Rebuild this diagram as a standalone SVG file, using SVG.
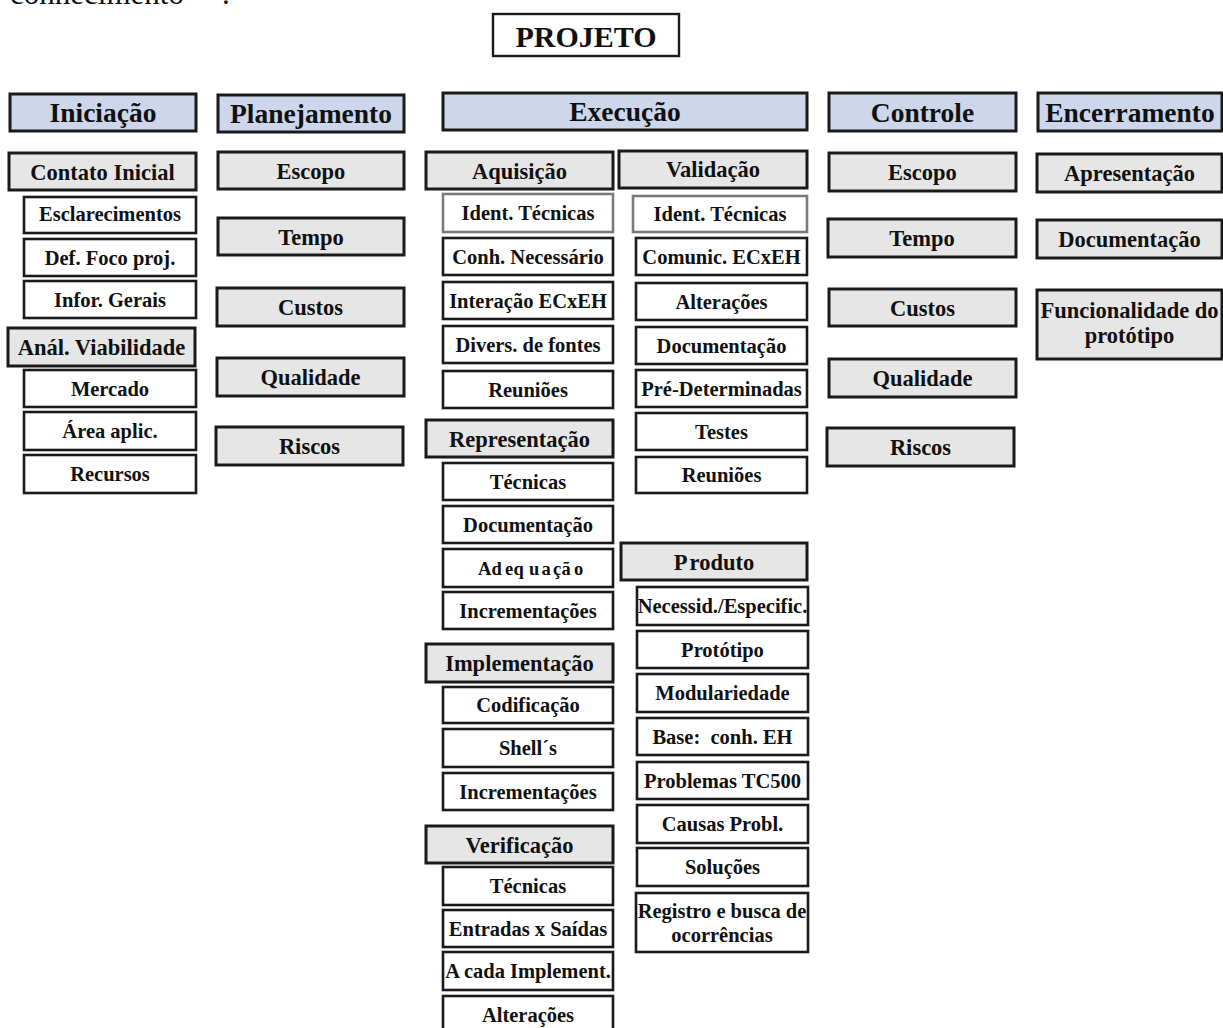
<svg xmlns="http://www.w3.org/2000/svg" width="1223" height="1028" viewBox="0 0 1223 1028">
  <style>
    text { font-family: "Liberation Serif", "Times New Roman", serif; font-weight: bold; fill: #111; text-anchor: middle; }
    .plain { font-weight: normal; text-anchor: start; font-size: 31px; }
    .hdr rect { fill: #cdd6ea; stroke: #1a1a1a; stroke-width: 3; }
    .hdr text { font-size: 27.5px; }
    .sub rect { fill: #e6e6e6; stroke: #1a1a1a; stroke-width: 3; }
    .sub text { font-size: 22.5px; }
    .leaf rect { fill: #ffffff; stroke: #1a1a1a; stroke-width: 2.6; }
    .leaf text { font-size: 20.5px; }
    .soft rect { fill: #ffffff; stroke: #7a7a7a; stroke-width: 2.6; }
    .soft text { font-size: 20.5px; }
    .top rect { fill: #ffffff; stroke: #1a1a1a; stroke-width: 2.4; }
    .top text { font-size: 30px; }
  </style>

  <rect width="1223" height="1028" fill="#ffffff"/>

  <!-- tail of the preceding paragraph, cut by the page edge -->
  <text class="plain" x="10" y="4">conhecimento<tspan x="222">.</tspan></text>

  <g id="projeto" class="top"><rect x="493" y="14" width="186" height="42"/><text x="586" y="47">PROJETO</text></g>

  <!-- phase headers -->
  <g id="iniciacao" class="hdr"><rect x="10" y="94" width="186" height="37"/><text x="103" y="122">Iniciação</text></g>
  <g id="planejamento" class="hdr"><rect x="218" y="95" width="186" height="37"/><text x="311" y="123">Planejamento</text></g>
  <g id="execucao" class="hdr"><rect x="443" y="93" width="364" height="37"/><text x="625" y="121">Execução</text></g>
  <g id="controle" class="hdr"><rect x="829" y="93" width="187" height="38"/><text x="922.5" y="121.5">Controle</text></g>
  <g id="encerramento" class="hdr"><rect x="1038" y="93" width="184" height="38"/><text x="1130" y="121.5">Encerramento</text></g>

  <!-- Iniciação -->
  <g id="ini-contato" class="sub"><rect x="9" y="153" width="187" height="37"/><text x="102.5" y="179.5">Contato Inicial</text></g>
  <g id="ini-esclarecimentos" class="leaf"><rect x="24" y="197" width="172" height="36"/><text x="110" y="221">Esclarecimentos</text></g>
  <g id="ini-foco" class="leaf"><rect x="24" y="239" width="172" height="37"/><text x="110" y="264.5">Def. Foco proj.</text></g>
  <g id="ini-infor" class="leaf"><rect x="24" y="281" width="172" height="37"/><text x="110" y="306.5">Infor. Gerais</text></g>
  <g id="ini-viabilidade" class="sub"><rect x="8" y="328" width="187" height="38"/><text x="101.5" y="355">Anál. Viabilidade</text></g>
  <g id="ini-mercado" class="leaf"><rect x="24" y="370" width="172" height="37"/><text x="110" y="395.5">Mercado</text></g>
  <g id="ini-area" class="leaf"><rect x="24" y="412" width="172" height="38"/><text x="110" y="438">Área aplic.</text></g>
  <g id="ini-recursos" class="leaf"><rect x="24" y="455" width="172" height="38"/><text x="110" y="481">Recursos</text></g>

  <!-- Planejamento -->
  <g id="pla-escopo" class="sub"><rect x="218" y="152" width="186" height="37"/><text x="311" y="178.5">Escopo</text></g>
  <g id="pla-tempo" class="sub"><rect x="218" y="218" width="186" height="37"/><text x="311" y="244.5">Tempo</text></g>
  <g id="pla-custos" class="sub"><rect x="217" y="288" width="187" height="38"/><text x="310.5" y="315">Custos</text></g>
  <g id="pla-qualidade" class="sub"><rect x="217" y="358" width="187" height="38"/><text x="310.5" y="385">Qualidade</text></g>
  <g id="pla-riscos" class="sub"><rect x="216" y="427" width="187" height="38"/><text x="309.5" y="454">Riscos</text></g>

  <!-- Execução: Aquisição, Representação, Implementação, Verificação -->
  <g id="exe-aquisicao" class="sub"><rect x="426" y="152" width="187" height="37"/><text x="519.5" y="178.5">Aquisição</text></g>
  <g id="aq-ident" class="soft"><rect x="443" y="194" width="170" height="38"/><text x="528" y="220">Ident. Técnicas</text></g>
  <g id="aq-conh" class="leaf"><rect x="443" y="238" width="170" height="37"/><text x="528" y="263.5">Conh. Necessário</text></g>
  <g id="aq-interacao" class="leaf"><rect x="443" y="282" width="170" height="37"/><text x="528" y="307.5">Interação ECxEH</text></g>
  <g id="aq-fontes" class="leaf"><rect x="443" y="326" width="170" height="37"/><text x="528" y="351.5">Divers. de fontes</text></g>
  <g id="aq-reunioes" class="leaf"><rect x="443" y="371" width="170" height="37"/><text x="528" y="396.5">Reuniões</text></g>

  <g id="exe-representacao" class="sub"><rect x="426" y="420" width="187" height="37"/><text x="519.5" y="446.5">Representação</text></g>
  <g id="rep-tecnicas" class="leaf"><rect x="443" y="463" width="170" height="37"/><text x="528" y="488.5">Técnicas</text></g>
  <g id="rep-documentacao" class="leaf"><rect x="443" y="506" width="170" height="37"/><text x="528" y="531.5">Documentação</text></g>
  <g id="rep-adequacao" class="leaf"><rect x="443" y="549" width="170" height="38"/><text style="font-size:18.5px;text-anchor:start" x="478 491.5 505 513.5 529 541.5 553 561.5 574" y="575">Adequação</text></g>
  <g id="rep-incrementacoes" class="leaf"><rect x="443" y="592" width="170" height="37"/><text x="528" y="617.5">Incrementações</text></g>

  <g id="exe-implementacao" class="sub"><rect x="426" y="644" width="187" height="38"/><text x="519.5" y="671">Implementação</text></g>
  <g id="imp-codificacao" class="leaf"><rect x="443" y="687" width="170" height="36"/><text x="528" y="712">Codificação</text></g>
  <g id="imp-shells" class="leaf"><rect x="443" y="729" width="170" height="38"/><text x="528" y="755">Shell´s</text></g>
  <g id="imp-incrementacoes" class="leaf"><rect x="443" y="773" width="170" height="37"/><text x="528" y="798.5">Incrementações</text></g>

  <g id="exe-verificacao" class="sub"><rect x="426" y="826" width="187" height="37"/><text x="519.5" y="852.5">Verificação</text></g>
  <g id="ver-tecnicas" class="leaf"><rect x="443" y="867" width="170" height="38"/><text x="528" y="893">Técnicas</text></g>
  <g id="ver-entradas" class="leaf"><rect x="443" y="910" width="170" height="37"/><text x="528" y="935.5">Entradas x Saídas</text></g>
  <g id="ver-cada" class="leaf"><rect x="443" y="952" width="170" height="38"/><text x="528" y="978">A cada Implement.</text></g>
  <g id="ver-alteracoes" class="leaf"><rect x="443" y="996" width="170" height="38"/><text x="528" y="1022">Alterações</text></g>

  <!-- Execução: Validação, Produto -->
  <g id="exe-validacao" class="sub"><rect x="619" y="151" width="188" height="37"/><text x="713" y="177">Validação</text></g>
  <g id="val-ident" class="soft"><rect x="633" y="196" width="174" height="36"/><text x="720" y="221">Ident. Técnicas</text></g>
  <g id="val-comunic" class="leaf"><rect x="636" y="238" width="171" height="37"/><text x="721.5" y="263.5">Comunic. ECxEH</text></g>
  <g id="val-alteracoes" class="leaf"><rect x="636" y="283" width="171" height="37"/><text x="721.5" y="308.5">Alterações</text></g>
  <g id="val-documentacao" class="leaf"><rect x="636" y="327" width="171" height="37"/><text x="721.5" y="352.5">Documentação</text></g>
  <g id="val-predet" class="leaf"><rect x="636" y="370" width="171" height="37"/><text x="721.5" y="395.5">Pré-Determinadas</text></g>
  <g id="val-testes" class="leaf"><rect x="636" y="413" width="171" height="37"/><text x="721.5" y="438.5">Testes</text></g>
  <g id="val-reunioes" class="leaf"><rect x="636" y="457" width="171" height="36"/><text x="721.5" y="482">Reuniões</text></g>

  <g id="exe-produto" class="sub"><rect x="621" y="543" width="186" height="37"/><text x="714" y="569.5">P<tspan dx="2">roduto</tspan></text></g>
  <g id="pro-necessid" class="leaf"><rect x="637" y="587" width="171" height="38"/><text x="722.5" y="613">Necessid./Especific.</text></g>
  <g id="pro-prototipo" class="leaf"><rect x="637" y="631" width="171" height="37"/><text x="722.5" y="656.5">Protótipo</text></g>
  <g id="pro-modular" class="leaf"><rect x="637" y="674" width="171" height="38"/><text x="722.5" y="700">Modulariedade</text></g>
  <g id="pro-base" class="leaf"><rect x="637" y="718" width="171" height="37"/><text x="722.5" y="743.5" style="white-space:pre">Base:  conh. EH</text></g>
  <g id="pro-problemas" class="leaf"><rect x="637" y="762" width="171" height="37"/><text x="722.5" y="787.5">Problemas TC500</text></g>
  <g id="pro-causas" class="leaf"><rect x="637" y="805" width="171" height="38"/><text x="722.5" y="831">Causas Probl.</text></g>
  <g id="pro-solucoes" class="leaf"><rect x="637" y="848" width="171" height="38"/><text x="722.5" y="874">Soluções</text></g>
  <g id="pro-registro" class="leaf"><rect x="636" y="893" width="172" height="59"/><text x="722" y="918">Registro e busca de</text><text x="722" y="942">ocorrências</text></g>

  <!-- Controle -->
  <g id="con-escopo" class="sub"><rect x="829" y="153" width="187" height="38"/><text x="922.5" y="180">Escopo</text></g>
  <g id="con-tempo" class="sub"><rect x="828" y="219" width="188" height="38"/><text x="922" y="246">Tempo</text></g>
  <g id="con-custos" class="sub"><rect x="829" y="289" width="187" height="37"/><text x="922.5" y="315.5">Custos</text></g>
  <g id="con-qualidade" class="sub"><rect x="829" y="359" width="187" height="38"/><text x="922.5" y="386">Qualidade</text></g>
  <g id="con-riscos" class="sub"><rect x="827" y="428" width="187" height="38"/><text x="920.5" y="455">Riscos</text></g>

  <!-- Encerramento -->
  <g id="enc-apresentacao" class="sub"><rect x="1037" y="154" width="185" height="38"/><text x="1129.5" y="181">Apresentação</text></g>
  <g id="enc-documentacao" class="sub"><rect x="1037" y="220" width="185" height="38"/><text x="1129.5" y="247">Documentação</text></g>
  <g id="enc-funcionalidade" class="sub"><rect x="1037" y="290" width="185" height="69"/><text x="1129.5" y="318">Funcionalidade do</text><text x="1129.5" y="343">protótipo</text></g>

  <g id="connectors"/>
</svg>
